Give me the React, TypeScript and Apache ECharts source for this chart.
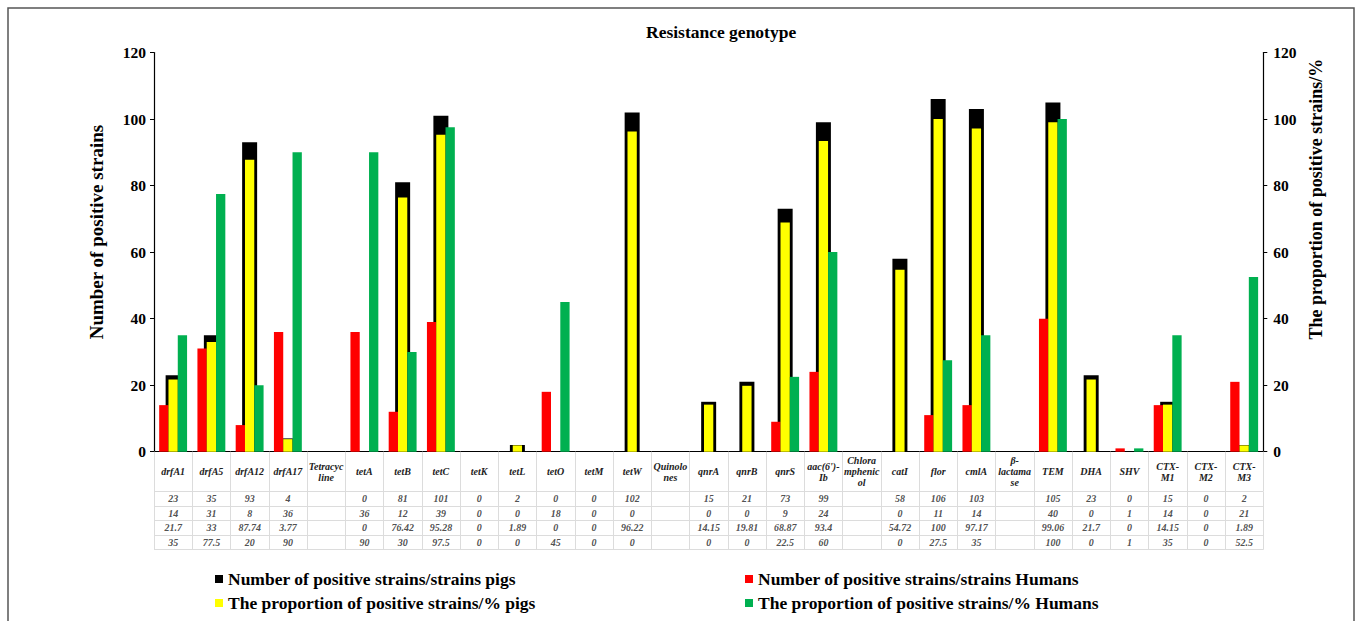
import React, { useEffect, useRef } from 'react';
import * as echarts from 'echarts';

const categories = [
  'drfA1', 'drfA5', 'drfA12', 'drfA17', 'Tetracyc\nline', 'tetA', 'tetB', 'tetC', 'tetK', 'tetL',
  'tetO', 'tetM', 'tetW', 'Quinolo\nnes', 'qnrA', 'qnrB', 'qnrS', "aac(6')-\nIb", 'Chlora\nmphenic\nol',
  'catI', 'flor', 'cmlA', 'β-\nlactama\nse', 'TEM', 'DHA', 'SHV', 'CTX-\nM1', 'CTX-\nM2', 'CTX-\nM3',
];

const pigsCount = [23, 35, 93, 4, null, 0, 81, 101, 0, 2, 0, 0, 102, null, 15, 21, 73, 99, null, 58, 106, 103, null, 105, 23, 0, 15, 0, 2];
const humansCount = [14, 31, 8, 36, null, 36, 12, 39, 0, 0, 18, 0, 0, null, 0, 0, 9, 24, null, 0, 11, 14, null, 40, 0, 1, 14, 0, 21];
const pigsPct = [21.7, 33, 87.74, 3.77, null, 0, 76.42, 95.28, 0, 1.89, 0, 0, 96.22, null, 14.15, 19.81, 68.87, 93.4, null, 54.72, 100, 97.17, null, 99.06, 21.7, 0, 14.15, 0, 1.89];
const humansPct = [35, 77.5, 20, 90, null, 90, 30, 97.5, 0, 0, 45, 0, 0, null, 0, 0, 22.5, 60, null, 0, 27.5, 35, null, 100, 0, 1, 35, 0, 52.5];

const seriesNames = [
  'Number of positive strains/strains pigs',
  'Number of positive strains/strains Humans',
  'The proportion of positive strains/% pigs',
  'The proportion of positive strains/% Humans',
];
const seriesColors = ['#000000', '#ff0000', '#ffff00', '#00b050'];

const titleText = 'Resistance genotype';
const leftAxisName = 'Number of positive strains';
const rightAxisName = 'The proportion of positive strains/%';
const axisMin = 0;
const axisMax = 120;
const axisStep = 20;
const tableRowKeys = ['pigsCount', 'humansCount', 'pigsPct', 'humansPct'];

const serif = '"Liberation Serif", "Times New Roman", serif';

export default function App() {
  const ref = useRef<HTMLDivElement>(null);

  useEffect(() => {
    const chart = echarts.init(ref.current!, null, { renderer: 'svg' });
    const tableRows = [pigsCount, humansCount, pigsPct, humansPct];
    const tableData: any[] = [];
    tableRows.forEach((row, r) => {
      row.forEach((v, c) => {
        if (v !== null && v !== undefined) tableData.push([c, r, v]);
      });
    });

    const gridLeft = 154;
    const gridRight = 93.7;

    const yAxisCommon = {
      type: 'value',
      min: axisMin,
      max: axisMax,
      interval: axisStep,
      splitLine: { show: false },
      axisLine: { show: true, lineStyle: { color: '#000', width: 1.2 } },
      axisTick: { show: true, length: 4, lineStyle: { color: '#000' } },
      axisLabel: { color: '#000', fontFamily: serif, fontWeight: 'bold', fontSize: 15.5 },
      nameLocation: 'middle',
      nameRotate: 90,
    };

    const legendCommon = {
      icon: 'rect',
      itemWidth: 8,
      itemHeight: 8,
      padding: 0,
      selectedMode: false,
      textStyle: { color: '#000', fontFamily: serif, fontWeight: 'bold', fontSize: 17.5, lineHeight: 18 },
    };

    const option: any = {
      animation: false,
      backgroundColor: '#fff',
      title: {
        text: titleText,
        left: 646,
        top: 23,
        padding: 0,
        textStyle: { color: '#000', fontFamily: serif, fontWeight: 'bold', fontSize: 17.5 },
      },
      graphic: [
        {
          type: 'rect',
          shape: { x: 8, y: 8, width: 1346, height: 640 },
          style: { fill: 'none', stroke: '#555', lineWidth: 1.5 },
          silent: true,
        },
      ],
      legend: [
        { ...legendCommon, data: [seriesNames[0]], left: 215, top: 570 },
        { ...legendCommon, data: [seriesNames[1]], left: 745, top: 570 },
        { ...legendCommon, data: [seriesNames[2]], left: 215, top: 594 },
        { ...legendCommon, data: [seriesNames[3]], left: 745, top: 594 },
      ],
      grid: [
        { left: gridLeft, right: gridRight, top: 52.5, height: 399.2 },
        { left: gridLeft, right: gridRight, top: 491.7, height: 58 },
      ],
      xAxis: [
        {
          type: 'category',
          gridIndex: 0,
          data: categories,
          axisLine: { show: true, lineStyle: { color: '#000', width: 1.2 } },
          axisTick: { show: true, interval: 0, length: 39.7, lineStyle: { color: '#dcdcdc' } },
          axisLabel: {
            interval: 0,
            margin: 20,
            verticalAlign: 'middle',
            color: '#222',
            fontFamily: serif,
            fontWeight: 'bold',
            fontStyle: 'italic',
            fontSize: 10,
            lineHeight: 11,
          },
        },
        {
          type: 'category',
          gridIndex: 0,
          data: categories,
          show: false,
        },
        {
          type: 'category',
          gridIndex: 1,
          data: categories,
          axisLine: { show: false },
          axisTick: { show: false },
          axisLabel: { show: false },
          splitLine: { show: true, interval: 0, lineStyle: { color: '#dcdcdc' } },
        },
      ],
      yAxis: [
        { ...yAxisCommon, gridIndex: 0, position: 'left', name: leftAxisName, nameGap: 48,
          nameTextStyle: { color: '#000', fontFamily: serif, fontWeight: 'bold', fontSize: 19, padding: [0, 0, 0, 40] } },
        { ...yAxisCommon, gridIndex: 0, position: 'right', name: rightAxisName, nameGap: 40,
          axisLabel: { ...yAxisCommon.axisLabel, margin: 10 },
          nameTextStyle: { color: '#000', fontFamily: serif, fontWeight: 'bold', fontSize: 18, padding: [0, 0, 0, 106] } },
        {
          type: 'category',
          gridIndex: 1,
          inverse: true,
          data: tableRowKeys,
          axisLine: { show: false },
          axisTick: { show: false },
          axisLabel: { show: false },
          splitLine: { show: true, interval: 0, lineStyle: { color: '#dcdcdc' } },
        },
      ],
      series: [
        {
          name: seriesNames[0], type: 'bar', xAxisIndex: 1, yAxisIndex: 0, data: pigsCount,
          barWidth: 15, z: 1, itemStyle: { color: seriesColors[0] },
        },
        {
          name: seriesNames[1], type: 'bar', xAxisIndex: 0, yAxisIndex: 0, data: humansCount,
          barWidth: 9.3, barGap: '0%', z: 3, itemStyle: { color: seriesColors[1] },
        },
        {
          name: seriesNames[2], type: 'bar', xAxisIndex: 0, yAxisIndex: 1, data: pigsPct,
          barWidth: 9.3, barGap: '0%', z: 3, itemStyle: { color: seriesColors[2] },
        },
        {
          name: seriesNames[3], type: 'bar', xAxisIndex: 0, yAxisIndex: 1, data: humansPct,
          barWidth: 9.3, barGap: '0%', z: 3, itemStyle: { color: seriesColors[3] },
        },
        {
          name: 'table',
          type: 'scatter',
          xAxisIndex: 2,
          yAxisIndex: 2,
          data: tableData,
          symbolSize: 1,
          itemStyle: { color: 'rgba(0,0,0,0)' },
          silent: true,
          label: {
            show: true,
            position: 'inside',
            formatter: (p: any) => String(p.value[2]),
            color: '#222',
            fontFamily: serif,
            fontWeight: 'bold',
            fontStyle: 'italic',
            fontSize: 10,
          },
        },
      ],
    };

    chart.setOption(option);
    return () => chart.dispose();
  }, []);

  return (
    <div
      ref={ref}
      style={{ position: 'fixed', left: 0, top: 0, width: 1357, height: 621, background: '#fff' }}
    />
  );
}
